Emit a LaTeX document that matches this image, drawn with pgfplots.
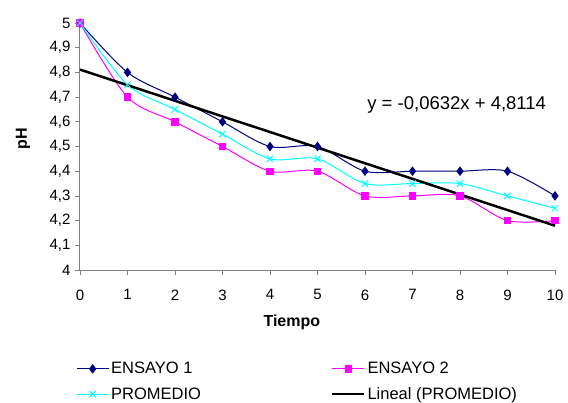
\documentclass[border=0pt]{standalone}
\usepackage{pgfplots}
\pgfplotsset{compat=1.18}
\usepackage{fontspec}
\setmainfont{Liberation Sans}
\definecolor{navy}{RGB}{0,0,128}
\definecolor{mag}{RGB}{255,0,255}
\definecolor{cyn}{RGB}{0,255,255}
\definecolor{axgray}{RGB}{128,128,128}
\begin{document}
\begin{tikzpicture}
\begin{axis}[
  scale only axis, width=475pt, height=247pt,
  xmin=0, xmax=10, ymin=4, ymax=5,
  xtick={0,...,10}, ytick={4,4.1,...,5.01},
  axis lines*=left, axis line style={axgray, line width=1pt},
  tick align=outside, major tick length=5pt, tick style={axgray, line width=0.8pt},
  /pgf/number format/assume math mode=true,
  /pgf/number format/use comma, /pgf/number format/fixed,
  yticklabel style={/pgf/number format/precision=1, font=\fontsize{15}{17}\selectfont, xshift=-1pt},
  xticklabel style={font=\fontsize{15}{17}\selectfont, yshift=-11pt},
  xlabel={\textbf{Tiempo}}, ylabel={\textbf{pH}},
  xlabel style={at={(axis description cs:0.446,-0.21)}, anchor=center, font=\fontsize{16}{18}\selectfont},
  ylabel style={at={(axis description cs:-0.12,0.53)}, anchor=center, font=\fontsize{16}{18}\selectfont},
  clip=false,
  legend columns=2,
  legend cell align=left,
  legend style={draw=none, fill=none, at={(axis description cs:-0.0084,-0.365)}, anchor=north west,
    font=\fontsize{16.5}{19}\selectfont, inner sep=0pt, row sep=8pt,
    /tikz/every even column/.append style={column sep=128pt}},
  legend image code/.code={\draw[#1, mark repeat=2, mark phase=2] plot coordinates {(0pt,0pt) (16pt,0pt) (32pt,0pt)};},
]
\addplot[navy, line width=1pt, smooth, tension=0.5, mark=diamond*, mark size=4pt, mark options={solid, fill=navy}]
  coordinates {(0,5) (1,4.8) (2,4.7) (3,4.6) (4,4.5) (5,4.5) (6,4.4) (7,4.4) (8,4.4) (9,4.4) (10,4.3)};
\addlegendentry{ENSAYO 1}
\addplot[mag, line width=1pt, smooth, tension=0.5, mark=square*, mark size=3.2pt, mark options={solid, fill=mag}]
  coordinates {(0,5) (1,4.7) (2,4.6) (3,4.5) (4,4.4) (5,4.4) (6,4.3) (7,4.3) (8,4.3) (9,4.2) (10,4.2)};
\addlegendentry{ENSAYO 2}
\addplot[cyn, line width=1pt, smooth, tension=0.5, mark=x, mark size=4.5pt, mark options={solid, line width=1pt}]
  coordinates {(0,5) (1,4.75) (2,4.65) (3,4.55) (4,4.45) (5,4.45) (6,4.35) (7,4.35) (8,4.35) (9,4.3) (10,4.25)};
\addlegendentry{PROMEDIO}
\addplot[black, line width=2.5pt] coordinates {(0,4.8114) (10,4.1794)};
\addlegendentry{Lineal (PROMEDIO)}
\node[anchor=center, font=\fontsize{18.5}{20}\selectfont] at (axis cs:7.93,4.668) {y = -0,0632x + 4,8114};
\end{axis}
\path (-80pt,-131pt) rectangle (488pt,270pt);
\end{tikzpicture}
\end{document}
